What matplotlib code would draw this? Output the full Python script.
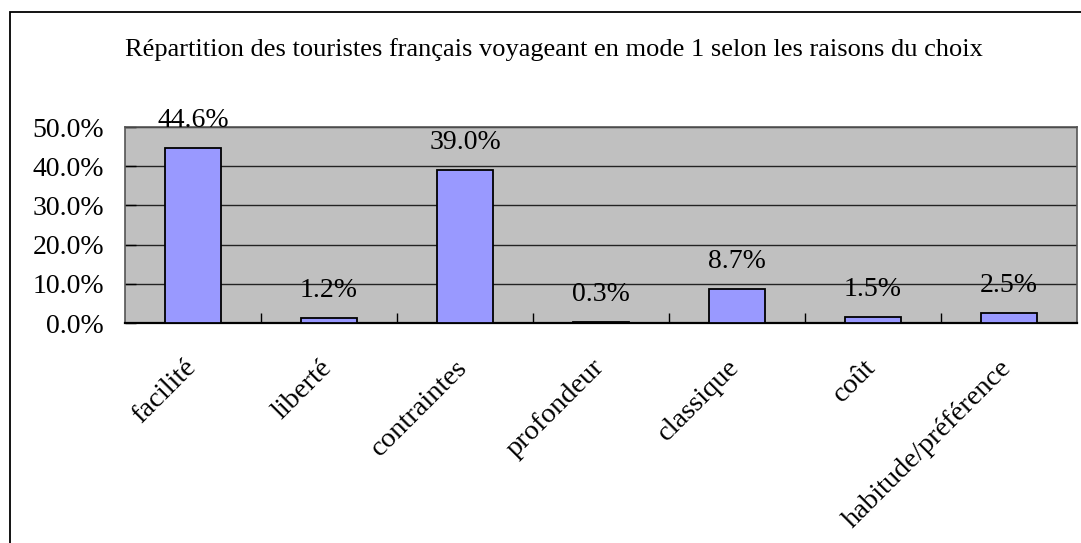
import matplotlib.pyplot as plt
from matplotlib.patches import Rectangle
from matplotlib.ticker import FixedLocator
from matplotlib.transforms import ScaledTranslation

plt.rcParams['font.family'] = ['Liberation Serif', 'DejaVu Serif']

categories = ["facilité", "liberté", "contraintes", "profondeur",
              "classique", "coût", "habitude/préférence"]
shares = [44.6, 1.2, 39.0, 0.3, 8.7, 1.5, 2.5]
yticks = [0, 10, 20, 30, 40, 50]
title = "Répartition des touristes français voyageant en mode 1 selon les raisons du choix"

fig = plt.figure(figsize=(10.81, 5.43), dpi=100)
ax = fig.add_axes([0.1156, 0.405, 0.8807, 0.361])
ax.set_facecolor("#C0C0C0")

x = range(len(categories))
ax.bar(x, shares, width=0.41, color="#9999FF", edgecolor="black", linewidth=1.3, zorder=3)

for xi, v in zip(x, shares):
    ax.annotate(f"{v:.1f}%", (xi, v), xytext=(0, 20), textcoords="offset points",
                ha="center", va="center", fontsize=20, zorder=4)

ax.set_xlim(-0.5, len(categories) - 0.5)
ax.set_ylim(0, 50)
ax.set_yticks(yticks)
ax.set_yticklabels([f"{t:.1f}%" for t in yticks], fontsize=20)
ax.yaxis.grid(True, color="#222222", linewidth=1.0, zorder=1)
ax.tick_params(axis="y", direction="in", length=8, pad=15, width=1)

ax.set_xticks(list(x))
ax.set_xticklabels(categories, rotation=45, ha="right", rotation_mode="anchor", fontsize=20.5)
ax.tick_params(axis="x", which="major", length=0, pad=23)
shift = ScaledTranslation(-0.1, 0, fig.dpi_scale_trans)
for lbl in ax.get_xticklabels():
    lbl.set_transform(lbl.get_transform() + shift)
ax.xaxis.set_minor_locator(FixedLocator([i + 0.5 for i in range(len(categories) - 1)]))
ax.tick_params(axis="x", which="minor", direction="in", length=7, width=1)

for s in ax.spines.values():
    s.set_color("#555555")
    s.set_linewidth(1.2)
ax.spines["bottom"].set_color("black")
ax.spines["bottom"].set_linewidth(1.6)

fig.text(0.512, 0.908, title, ha="center", va="center", fontsize=19)

# outer frame of the chart area (left and top edges visible)
fig.patches.append(Rectangle((9.5 / 1081, -0.01), 1.0, 1 - 11.5 / 543 + 0.01,
                             transform=fig.transFigure, fill=False,
                             edgecolor="black", linewidth=1.3))

fig.savefig("out.png", dpi=100)
